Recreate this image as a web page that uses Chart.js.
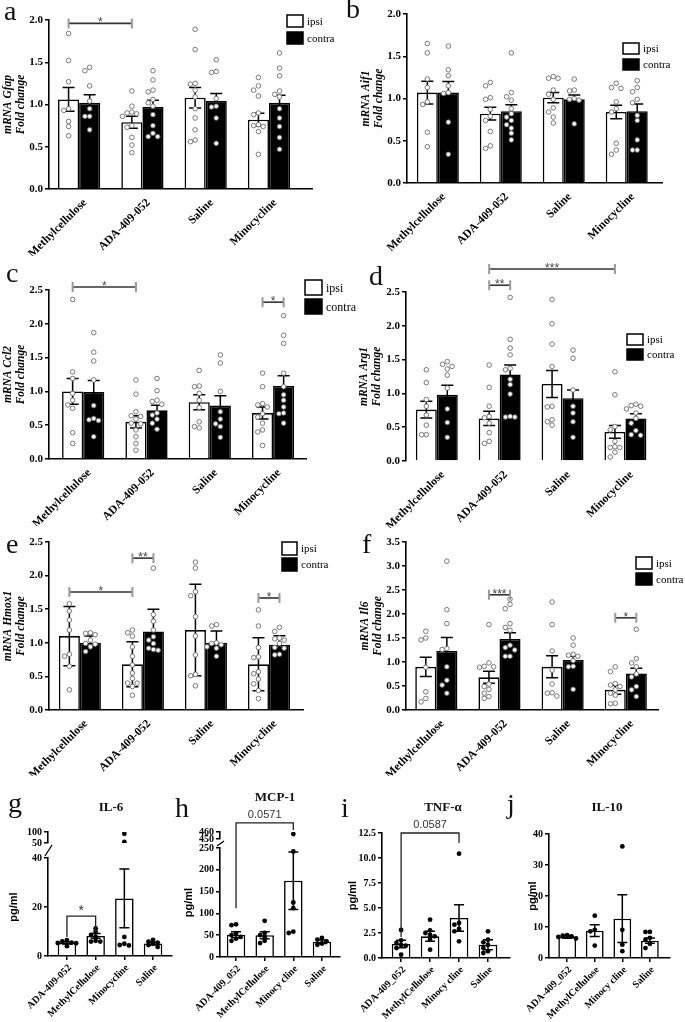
<!DOCTYPE html>
<html>
<head>
<meta charset="utf-8">
<script src="https://cdn.jsdelivr.net/npm/chart.js@4.4.4/dist/chart.umd.min.js"></script>
<style>
  body { margin: 0; background: #fff; width: 685px; height: 1022px; position: relative; overflow: hidden; font-family: "Liberation Serif", serif; }
  canvas { position: absolute; }
  .lt { position: absolute; font-size: 28px; line-height: 1; color: #111; }
  .tt { position: absolute; font-weight: bold; font-size: 13px; transform: translate(-50%, -50%); white-space: nowrap; color: #111; }
</style>
</head>
<body>
<canvas id="cA"></canvas><canvas id="cB"></canvas>
<canvas id="cC"></canvas><canvas id="cD"></canvas>
<canvas id="cE"></canvas><canvas id="cF"></canvas>
<canvas id="cG"></canvas><canvas id="cH"></canvas>
<canvas id="cI"></canvas><canvas id="cJ"></canvas>

<div class="lt" style="left:4px;top:-3px">a</div>
<div class="lt" style="left:346px;top:-5px">b</div>
<div class="lt" style="left:6px;top:259px">c</div>
<div class="lt" style="left:369px;top:262px">d</div>
<div class="lt" style="left:6px;top:530px">e</div>
<div class="lt" style="left:362px;top:530px">f</div>
<div class="lt" style="left:8px;top:789px">g</div>
<div class="lt" style="left:175px;top:794px">h</div>
<div class="lt" style="left:341px;top:794px">i</div>
<div class="lt" style="left:507px;top:790px">j</div>

<div class="tt" style="left:111px;top:807px">IL-6</div>
<div class="tt" style="left:275px;top:797px">MCP-1</div>
<div class="tt" style="left:443px;top:807px">TNF-α</div>
<div class="tt" style="left:607px;top:807px">IL-10</div>

<script>
const SERIF = '"Liberation Serif", "Times New Roman", serif';
const SANS = '"Liberation Sans", Arial, sans-serif';

const GROUPS = ['Methylcellulose', 'ADA-409-052', 'Saline', 'Minocycline'];

// a - Gfap (mean ± SEM)
const gfapIpsi = [1.06, 0.79, 1.08, 0.82];
const gfapIpsiErr = [0.14, 0.07, 0.12, 0.075];
const gfapContra = [1.02, 0.97, 1.04, 1.02];
const gfapContraErr = [0.095, 0.08, 0.09, 0.09];
const gfapIpsiDots = [
  [1.84, 1.52, 1.27, 0.95, 0.93, 0.80, 0.74, 0.63],
  [1.16, 0.98, 0.91, 0.90, 0.89, 0.86, 0.75, 0.73, 0.61, 0.52, 0.43],
  [1.89, 1.65, 1.25, 1.24, 1.17, 1.09, 0.95, 0.84, 0.70, 0.58, 0.56],
  [1.32, 1.22, 1.17, 1.10, 0.90, 0.88, 0.76, 0.75, 0.74, 0.68, 0.41],
];
const gfapContraDots = [
  [1.44, 1.40, 1.22, 1.04, 0.95, 0.86, 0.86, 0.70],
  [1.40, 1.29, 1.17, 1.15, 1.06, 1.02, 0.98, 0.88, 0.75, 0.66, 0.62, 0.62],
  [1.53, 1.39, 1.38, 1.07, 0.98, 0.97, 0.84, 0.54],
  [1.61, 1.43, 1.34, 1.16, 1.12, 1.09, 0.95, 0.84, 0.74, 0.61, 0.47],
];

// b - Aif1
const aif1Ipsi = [1.07, 0.82, 1.01, 0.84];
const aif1IpsiErr = [0.135, 0.075, 0.06, 0.08];
const aif1Contra = [1.07, 0.85, 0.99, 0.85];
const aif1ContraErr = [0.13, 0.075, 0.05, 0.085];
const aif1IpsiDots = [
  [1.65, 1.54, 1.23, 1.13, 0.96, 0.93, 0.60, 0.43],
  [1.19, 1.15, 1.01, 0.99, 0.87, 0.79, 0.74, 0.61, 0.44, 0.41],
  [1.26, 1.24, 1.24, 1.10, 1.05, 0.99, 0.89, 0.84, 0.78, 0.71],
  [1.18, 1.13, 1.12, 0.96, 0.88, 0.84, 0.47, 0.39, 0.34],
];
const aif1ContraDots = [
  [1.62, 1.34, 1.27, 1.15, 1.07, 1.06, 0.72, 0.34],
  [1.54, 1.07, 1.02, 0.98, 0.88, 0.82, 0.78, 0.74, 0.69, 0.65, 0.59, 0.51],
  [1.23, 1.10, 1.09, 1.00, 0.99, 0.98, 0.70],
  [1.21, 1.13, 1.08, 0.99, 0.95, 0.80, 0.74, 0.51, 0.39, 0.39],
];

// c - Ccl2
const ccl2Ipsi = [1.00, 0.55, 0.84, 0.68];
const ccl2IpsiErr = [0.19, 0.09, 0.11, 0.09];
const ccl2Contra = [0.99, 0.72, 0.79, 1.08];
const ccl2ContraErr = [0.17, 0.075, 0.145, 0.15];
const ccl2IpsiDots = [
  [2.36, 1.29, 1.19, 0.97, 0.87, 0.80, 0.75, 0.39, 0.23],
  [1.17, 0.96, 0.70, 0.64, 0.63, 0.59, 0.53, 0.52, 0.43, 0.33, 0.23, 0.13],
  [1.31, 1.08, 1.07, 0.97, 0.87, 0.76, 0.55, 0.48, 0.46],
  [1.27, 1.07, 0.82, 0.80, 0.77, 0.67, 0.62, 0.53, 0.43, 0.40, 0.20],
];
const ccl2ContraDots = [
  [1.87, 1.58, 1.45, 1.17, 0.79, 0.60, 0.58, 0.57, 0.33],
  [1.19, 1.01, 0.87, 0.85, 0.81, 0.68, 0.65, 0.59, 0.53, 0.44],
  [1.54, 1.42, 1.00, 0.70, 0.59, 0.52, 0.48, 0.32],
  [2.12, 1.83, 1.71, 1.27, 1.07, 0.95, 0.87, 0.77, 0.68, 0.67, 0.53],
];

// d - Arg1
const arg1Ipsi = [0.76, 0.63, 1.14, 0.43];
const arg1IpsiErr = [0.125, 0.105, 0.20, 0.095];
const arg1Contra = [0.98, 1.28, 0.93, 0.63];
const arg1ContraErr = [0.14, 0.14, 0.12, 0.07];
const arg1IpsiDots = [
  [1.35, 1.16, 0.91, 0.81, 0.68, 0.53, 0.39, 0.39],
  [1.42, 1.09, 0.81, 0.66, 0.64, 0.56, 0.42, 0.29, 0.26],
  [2.39, 2.03, 1.73, 1.40, 0.81, 0.80, 0.61, 0.58, 0.53],
  [1.32, 0.98, 0.51, 0.46, 0.29, 0.21, 0.20, 0.20, 0.13, 0.06],
];
const arg1ContraDots = [
  [1.47, 1.43, 1.40, 1.36, 1.27, 1.08, 0.77, 0.57, 0.35],
  [2.42, 1.80, 1.67, 1.57, 1.37, 1.35, 1.21, 1.13, 0.99, 0.66, 0.65, 0.65],
  [1.64, 1.52, 1.05, 0.81, 0.71, 0.58, 0.35],
  [0.84, 0.82, 0.81, 0.77, 0.71, 0.63, 0.56, 0.45, 0.39, 0.38],
];

// e - Hmox1 (mean ± SD)
const hmoxIpsi = [1.10, 0.68, 1.19, 0.68];
const hmoxIpsiErr = [0.44, 0.335, 0.68, 0.395];
const hmoxContra = [1.00, 1.17, 1.00, 0.97];
const hmoxContraErr = [0.10, 0.33, 0.175, 0.135];
const hmoxIpsiDots = [
  [1.58, 1.47, 1.34, 1.19, 0.83, 0.80, 0.65, 0.30],
  [1.19, 1.15, 1.10, 0.94, 0.80, 0.67, 0.55, 0.47, 0.40, 0.40, 0.35, 0.22],
  [2.20, 2.11, 1.76, 1.70, 1.39, 1.10, 0.82, 0.53, 0.51, 0.36],
  [1.49, 1.25, 0.93, 0.79, 0.78, 0.57, 0.54, 0.46, 0.39, 0.29, 0.17],
];
const hmoxContraDots = [
  [1.15, 1.14, 1.12, 1.04, 0.99, 0.98, 0.94, 0.87],
  [2.11, 1.42, 1.32, 1.19, 1.09, 1.04, 0.99, 0.92, 0.90, 0.89],
  [1.27, 1.25, 1.00, 0.99, 0.97, 0.94, 0.92, 0.80],
  [1.23, 1.17, 1.07, 1.06, 1.04, 0.99, 0.93, 0.92, 0.83, 0.82],
];

// f - Il6
const il6Ipsi = [0.90, 0.68, 0.90, 0.42];
const il6IpsiErr = [0.20, 0.125, 0.23, 0.09];
const il6Contra = [1.23, 1.48, 1.04, 0.76];
const il6ContraErr = [0.28, 0.13, 0.08, 0.11];
const il6IpsiDots = [
  [1.64, 1.50, 1.46, 0.89, 0.38, 0.24, 0.17],
  [1.78, 0.98, 0.91, 0.90, 0.89, 0.54, 0.49, 0.43, 0.35, 0.28, 0.24],
  [2.25, 1.78, 1.23, 0.83, 0.54, 0.36, 0.35, 0.29],
  [0.90, 0.80, 0.55, 0.52, 0.49, 0.42, 0.35, 0.31, 0.14, 0.13],
];
const il6ContraDots = [
  [3.10, 2.09, 1.80, 1.28, 1.26, 0.90, 0.62, 0.52, 0.35],
  [2.31, 2.20, 2.11, 1.80, 1.72, 1.66, 1.35, 1.30, 1.25, 1.12, 1.12],
  [1.50, 1.35, 1.16, 1.14, 1.12, 1.03, 0.91, 0.90, 0.43],
  [1.68, 1.07, 0.98, 0.90, 0.75, 0.69, 0.49, 0.42, 0.28],
];

// g-j - ELISA (pg/ml, mean ± SEM)
const elisaLabelsG = ['ADA-409-052', 'MethylCellulose', 'Minocycline', 'Saline'];
const elisaLabels = ['ADA-409_052', 'MethylCellulose', 'Minocy cline', 'Saline'];

const il6Serum = [5.3, 8.2, 23.5, 5.1];
const il6SerumErr = [0.4, 1.0, 12, 0.5];
const il6SerumDots = [
  [6.5, 6.0, 5.5, 5.3, 5.2, 4.0],
  [11.3, 9.9, 8.6, 7.9, 6.2, 5.9, 5.9],
  [7.8, 5.0, 4.5, 4.3],
  [6.6, 5.9, 5.5, 5.0, 4.5, 3.7],
];
const il6SerumHigh = [[], [], [92, 55], []];

const mcp1Serum = [51, 50, 175, 35];
const mcp1SerumErr = [7, 8, 66, 4];
const mcp1SerumDots = [
  [75, 73, 54, 50, 46, 42, 37],
  [83, 55, 50, 46, 37, 32],
  [242, 125, 112, 58, 55],
  [44, 40, 36, 31, 28],
];
const mcp1SerumHigh = [[], [], [457], []];

const tnfSerum = [1.4, 2.17, 4.0, 1.33];
const tnfSerumErr = [0.38, 0.5, 1.33, 0.5];
const tnfSerumDots = [
  [2.8, 1.77, 1.5, 1.3, 1.23, 1.0, 0.33],
  [3.83, 2.77, 2.5, 2.3, 2.17, 1.83, 0.83],
  [10.43, 3.5, 3.33, 2.9, 2.67, 1.67],
  [2.67, 1.83, 1.57, 1.3, 1.0, 0.67, 0.5],
];

const il10Serum = [6.8, 8.8, 12.7, 5.6];
const il10SerumErr = [0.4, 1.9, 7.7, 0.85];
const il10SerumDots = [
  [7.4, 7.2, 7.0, 6.8, 6.3],
  [13.65, 9.1, 8.6, 4.0],
  [36, 9.1, 4.3, 2.2],
  [8.4, 8.4, 6.5, 5.9, 4.6, 3.2],
];

// ---------------------------------------------------------------
const BAR_SPAN = 0.667;          // two bars fill this much of a group
const OFF = BAR_SPAN / 4;        // centre of each bar from the group centre
const ip = i => i - OFF;
const co = i => i + OFF;

// spread overlapping dots sideways, like a beeswarm
function swarm(groups, shift, step, yTol) {
  const out = [];
  groups.forEach((vals, i) => {
    const placed = [];
    vals.forEach(v => {
      let off = 0;
      for (const k of [0, -1, 1, -2, 2, -3, 3]) {
        off = k * step;
        if (!placed.some(p => Math.abs(p.y - v) < yTol && Math.abs(p.x - off) < step * 0.9)) break;
      }
      placed.push({ x: off, y: v });
      out.push({ x: i + shift + off, y: v });
    });
  });
  return out;
}

const errorBars = {
  id: 'errorBars',
  afterDatasetDraw(chart, args) {
    const ds = chart.data.datasets[args.index];
    if (!ds.errs) return;
    const ctx = chart.ctx;
    const ys = chart.scales[args.meta.yAxisID];
    ctx.save();
    ctx.strokeStyle = '#000';
    ctx.lineWidth = 1.5;
    args.meta.data.forEach((bar, i) => {
      const m = ds.data[i].y, e = ds.errs[i];
      const top = ys.getPixelForValue(m + e), bot = ys.getPixelForValue(m - e);
      const c = ds.capHalf;
      ctx.beginPath();
      ctx.moveTo(bar.x, top); ctx.lineTo(bar.x, bot);
      ctx.moveTo(bar.x - c, top); ctx.lineTo(bar.x + c, top);
      ctx.moveTo(bar.x - c, bot); ctx.lineTo(bar.x + c, bot);
      ctx.stroke();
    });
    ctx.restore();
  }
};

const sigBrackets = {
  id: 'sigBrackets',
  afterDraw(chart, _a, opts) {
    const items = opts.items || [];
    const ctx = chart.ctx;
    const xs = chart.scales.x;
    ctx.save();
    items.forEach(it => {
      const x1 = xs.getPixelForValue(it.x1), x2 = xs.getPixelForValue(it.x2);
      const y = chart.scales[it.axis || 'y'].getPixelForValue(it.y);
      if (opts.prism) {
        const l1 = chart.scales[it.leg1Axis || 'y'].getPixelForValue(it.leg1);
        const l2 = chart.scales[it.leg2Axis || 'y'].getPixelForValue(it.leg2);
        ctx.strokeStyle = '#222';
        ctx.lineWidth = 1.3;
        ctx.beginPath();
        ctx.moveTo(x1, l1); ctx.lineTo(x1, y); ctx.lineTo(x2, y); ctx.lineTo(x2, l2);
        ctx.stroke();
        ctx.fillStyle = '#333';
        ctx.font = (it.text === '*' ? 14 : 11) + 'px ' + SANS;
        ctx.textAlign = 'center';
        ctx.textBaseline = 'alphabetic';
        ctx.fillText(it.text, (x1 + x2) / 2, y - (it.text === '*' ? 1 : 5));
      } else {
        ctx.strokeStyle = '#333';
        ctx.lineWidth = 1.6;
        ctx.beginPath();
        ctx.moveTo(x1, y); ctx.lineTo(x2, y);
        ctx.stroke();
        ctx.strokeStyle = '#9a9a9a';
        ctx.lineWidth = 2;
        ctx.beginPath();
        ctx.moveTo(x1, y - 5); ctx.lineTo(x1, y + 5);
        ctx.moveTo(x2, y - 5); ctx.lineTo(x2, y + 5);
        ctx.stroke();
        ctx.fillStyle = '#444';
        ctx.font = '12px ' + SANS;
        ctx.textAlign = 'center';
        ctx.textBaseline = 'alphabetic';
        ctx.fillText(it.text, (x1 + x2) / 2, y + 3);
      }
    });
    ctx.restore();
  }
};

const boxLegend = {
  id: 'boxLegend',
  afterDraw(chart, _a, o) {
    if (o.x === undefined) return;
    const ctx = chart.ctx;
    const rows = chart.data.datasets.filter(d => d.type === 'bar');
    ctx.save();
    rows.forEach((d, k) => {
      const y = o.y + k * o.gap;
      ctx.fillStyle = d.backgroundColor;
      ctx.fillRect(o.x, y, o.w, o.h);
      ctx.strokeStyle = '#000';
      ctx.lineWidth = 1.5;
      ctx.strokeRect(o.x, y, o.w, o.h);
      ctx.fillStyle = '#000';
      ctx.font = o.size + 'px ' + SERIF;
      ctx.textAlign = 'left';
      ctx.textBaseline = 'middle';
      ctx.fillText(d.label, o.x + o.w + 4, y + o.h / 2 + 1);
    });
    ctx.restore();
  }
};

const axisBreak = {
  id: 'axisBreak',
  afterDraw(chart) {
    const gap = chart.scales.yGap;
    if (!gap) return;
    const ctx = chart.ctx;
    const x = chart.chartArea.left;
    ctx.save();
    ctx.strokeStyle = '#000';
    ctx.lineWidth = 1.3;
    ctx.beginPath();
    ctx.moveTo(x - 3, gap.bottom - 2); ctx.lineTo(x + 4, gap.top + 2);
    ctx.stroke();
    ctx.restore();
  }
};

Chart.register(errorBars, sigBrackets, boxLegend, axisBreak);

function place(id, box) {
  const cv = document.getElementById(id);
  cv.width = box.r - box.l;
  cv.height = box.b - box.t;
  cv.style.left = box.l + 'px';
  cv.style.top = box.t + 'px';
  return cv;
}

const dotStyle = { pointRadius: 2.3, pointBackgroundColor: '#fff', pointBorderColor: '#6b6b6b', pointBorderWidth: 0.9 };

function genePanel(id, p) {
  const a = p.area, c = p.canvas;
  const cv = place(id, c);
  const yTol = p.yMax * 0.03;
  new Chart(cv, {
    data: {
      datasets: [
        { type: 'scatter', data: swarm(p.ipsiDots, -OFF, 0.075, yTol), order: 1, ...dotStyle },
        { type: 'scatter', data: swarm(p.contraDots, OFF, 0.075, yTol), order: 1, ...dotStyle },
        { type: 'bar', label: 'ipsi', data: p.ipsi.map((y, i) => ({ x: i, y })), errs: p.ipsiErr, capHalf: 6,
          backgroundColor: '#fff', borderColor: '#000', borderWidth: 1.6, order: 2,
          categoryPercentage: BAR_SPAN, barPercentage: 1 },
        { type: 'bar', label: 'contra', data: p.contra.map((y, i) => ({ x: i, y })), errs: p.contraErr, capHalf: 6,
          backgroundColor: '#000', borderColor: '#000', borderWidth: 1.6, order: 2,
          categoryPercentage: BAR_SPAN, barPercentage: 1 },
      ],
    },
    options: {
      responsive: false,
      animation: false,
      events: [],
      layout: { padding: { top: a.t - c.t, right: c.r - a.r, left: 0, bottom: 0 } },
      scales: {
        x: {
          type: 'linear', min: p.x[0], max: p.x[1], offset: false,
          afterBuildTicks: s => { s.ticks = GROUPS.map((_, i) => ({ value: i })); },
          afterFit: s => { s.height = c.b - a.b; },
          ticks: { callback: v => GROUPS[v], minRotation: 45, maxRotation: 45, autoSkip: false,
                   padding: 7, labelOffset: 6, color: '#000', font: { family: SERIF, size: 11.6, weight: 'bold' } },
          grid: { display: false, drawTicks: false, offset: false },
          border: { display: p.xLine !== false, color: '#000', width: 1.6 },
        },
        y: {
          min: 0, max: p.yMax,
          afterFit: s => { s.width = a.l - c.l; },
          ticks: { stepSize: 0.5, callback: v => v.toFixed(1), padding: 2, color: '#000',
                   font: { family: SERIF, size: 11, weight: 'bold' } },
          grid: { display: true, drawOnChartArea: false, drawTicks: true, tickLength: 4, color: '#000', lineWidth: 1.5 },
          border: { color: '#000', width: 1.6 },
          title: { display: true, text: ['mRNA ' + p.gene, 'Fold change'], color: '#000',
                   font: { family: SERIF, size: 11.5, weight: 'bold', style: 'italic', lineHeight: 1.1 }, padding: { top: 2, bottom: 4 } },
        },
      },
      plugins: {
        legend: { display: false },
        tooltip: { enabled: false },
        boxLegend: { x: p.legend.x - c.l, y: p.legend.y - c.t, w: p.legend.w, h: p.legend.h, gap: p.legend.gap, size: p.legend.size },
        sigBrackets: { items: p.sig, prism: false },
      },
    },
  });
}

function elisaPanel(id, p) {
  const a = p.area, c = p.canvas;
  const cv = place(id, c);
  const yTol = p.yMax * 0.035;
  const tickFont = { family: SERIF, size: 10, weight: 'bold' };
  const yGrid = { display: true, drawOnChartArea: false, drawTicks: true, tickLength: 4, color: '#000', lineWidth: 1.5 };
  const fitY = s => { s.width = a.l - c.l; };
  const dotsBlack = { pointRadius: 2.4, pointBackgroundColor: '#000', pointBorderWidth: 0, order: 1 };

  const datasets = [
    { type: 'scatter', data: swarm(p.dots, 0, 0.16, yTol), ...dotsBlack },
    { type: 'bar', label: 'mean', data: p.mean.map((y, i) => ({ x: i, y })), errs: p.err, capHalf: 5,
      backgroundColor: '#fff', borderColor: '#000', borderWidth: 1.6, order: 2,
      categoryPercentage: 0.645, barPercentage: 1 },
  ];
  const scales = {
    x: {
      type: 'linear', min: p.x[0], max: p.x[1], offset: false,
      afterBuildTicks: s => { s.ticks = p.labels.map((_, i) => ({ value: i })); },
      afterFit: s => { s.height = c.b - a.b; },
      ticks: { callback: v => p.labels[v], minRotation: 45, maxRotation: 45, autoSkip: false,
               padding: 2, labelOffset: 3, color: '#000', font: { family: SERIF, size: 10, weight: 'bold' } },
      grid: { display: true, drawOnChartArea: false, drawTicks: true, tickLength: 4, color: '#000', lineWidth: 1.5, offset: false },
      border: { color: '#000', width: 1.6 },
    },
    y: {
      min: 0, max: p.yMax, weight: 1,
      afterFit: fitY,
      ticks: { stepSize: p.step, callback: v => p.fmt ? v.toFixed(1) : String(v), padding: 2, autoSkip: false,
               color: '#000', font: tickFont },
      grid: yGrid,
      border: { color: '#000', width: 1.6 },
      title: { display: true, text: 'pg/ml', color: '#000', font: { family: SANS, size: 11, weight: 'bold' }, padding: { top: 2, bottom: 4 } },
    },
  };
  if (p.top) {
    const [wTop, wGap, wLow] = p.top.weights;
    scales.y.stack = 'v';
    scales.y.stackWeight = wLow;
    scales.yGap = {
      stack: 'v', stackWeight: wGap, weight: 2, min: 0, max: 1, afterFit: fitY,
      ticks: { display: false }, grid: { display: false }, border: { display: false },
    };
    scales.yTop = {
      stack: 'v', stackWeight: wTop, weight: 3, min: p.top.min, max: p.top.max, afterFit: fitY,
      afterBuildTicks: s => { s.ticks = p.top.ticks.map(v => ({ value: v })); },
      ticks: { autoSkip: false, padding: 2, color: '#000', font: tickFont },
      grid: yGrid,
      border: { color: '#000', width: 1.6 },
    };
    datasets.unshift({ type: 'scatter', yAxisID: 'yTop', data: swarm(p.top.dots, 0, 0.16, (p.top.max - p.top.min) * 0.2), ...dotsBlack });
  }
  new Chart(cv, {
    data: { datasets },
    options: {
      responsive: false,
      animation: false,
      events: [],
      layout: { padding: { top: a.t - c.t, right: c.r - a.r, left: 0, bottom: 0 } },
      scales,
      plugins: {
        legend: { display: false },
        tooltip: { enabled: false },
        sigBrackets: { items: p.sig || [], prism: true },
      },
    },
  });
}

// ---------------------------------------------------------------
genePanel('cA', {
  area: { l: 49, r: 312, t: 20, b: 189 }, canvas: { l: 0, t: 2, r: 340, b: 256 },
  x: [-0.476, 3.68], yMax: 2, gene: 'Gfap',
  ipsi: gfapIpsi, ipsiErr: gfapIpsiErr, contra: gfapContra, contraErr: gfapContraErr,
  ipsiDots: gfapIpsiDots, contraDots: gfapContraDots,
  legend: { x: 287, y: 15, w: 16, h: 12, gap: 17, size: 11 },
  sig: [{ x1: ip(0), x2: ip(1), y: 1.96, text: '*' }],
});

genePanel('cB', {
  area: { l: 407, r: 662, t: 14, b: 183 }, canvas: { l: 358, t: 2, r: 685, b: 252 },
  x: [-0.49, 3.56], yMax: 2, gene: 'Aif1',
  ipsi: aif1Ipsi, ipsiErr: aif1IpsiErr, contra: aif1Contra, contraErr: aif1ContraErr,
  ipsiDots: aif1IpsiDots, contraDots: aif1ContraDots,
  legend: { x: 623, y: 43, w: 16, h: 11, gap: 16, size: 11 },
  sig: [],
});

genePanel('cC', {
  area: { l: 49, r: 306, t: 290, b: 459 }, canvas: { l: 0, t: 270, r: 365, b: 526 },
  x: [-0.54, 3.52], yMax: 2.5, gene: 'Ccl2',
  ipsi: ccl2Ipsi, ipsiErr: ccl2IpsiErr, contra: ccl2Contra, contraErr: ccl2ContraErr,
  ipsiDots: ccl2IpsiDots, contraDots: ccl2ContraDots,
  legend: { x: 305, y: 280, w: 17, h: 15, gap: 19, size: 12 },
  sig: [{ x1: ip(0), x2: ip(1), y: 2.544, text: '*' }, { x1: ip(3), x2: co(3), y: 2.32, text: '*' }],
});

genePanel('cD', {
  area: { l: 406, r: 660, t: 292, b: 461 }, canvas: { l: 356, t: 258, r: 685, b: 528 },
  x: [-0.49, 3.55], yMax: 2.5, gene: 'Arg1', xLine: false,
  ipsi: arg1Ipsi, ipsiErr: arg1IpsiErr, contra: arg1Contra, contraErr: arg1ContraErr,
  ipsiDots: arg1IpsiDots, contraDots: arg1ContraDots,
  legend: { x: 627, y: 334, w: 16, h: 11, gap: 15, size: 11 },
  sig: [{ x1: ip(1), x2: ip(3), y: 2.84, text: '***' }, { x1: ip(1), x2: co(1), y: 2.60, text: '**' }],
});

genePanel('cE', {
  area: { l: 49, r: 303, t: 542, b: 710 }, canvas: { l: 0, t: 530, r: 340, b: 776 },
  x: [-0.49, 3.54], yMax: 2.5, gene: 'Hmox1',
  ipsi: hmoxIpsi, ipsiErr: hmoxIpsiErr, contra: hmoxContra, contraErr: hmoxContraErr,
  ipsiDots: hmoxIpsiDots, contraDots: hmoxContraDots,
  legend: { x: 282, y: 542, w: 15, h: 13, gap: 16, size: 11 },
  sig: [
    { x1: ip(0), x2: ip(1), y: 1.756, text: '*' },
    { x1: ip(1), x2: co(1), y: 2.26, text: '**' },
    { x1: ip(3), x2: co(3), y: 1.667, text: '*' },
  ],
});

genePanel('cF', {
  area: { l: 406, r: 658, t: 542, b: 710 }, canvas: { l: 357, t: 530, r: 685, b: 776 },
  x: [-0.48, 3.51], yMax: 3.5, gene: 'Il6',
  ipsi: il6Ipsi, ipsiErr: il6IpsiErr, contra: il6Contra, contraErr: il6ContraErr,
  ipsiDots: il6IpsiDots, contraDots: il6ContraDots,
  legend: { x: 636, y: 557, w: 16, h: 12, gap: 16, size: 11 },
  sig: [{ x1: ip(1), x2: co(1), y: 2.40, text: '***' }, { x1: ip(3), x2: co(3), y: 1.92, text: '*' }],
});

elisaPanel('cG', {
  area: { l: 48, r: 172, t: 832, b: 956 }, canvas: { l: 5, t: 822, r: 178, b: 1020 },
  x: [-0.66, 3.66], yMax: 40, step: 20, labels: elisaLabelsG,
  mean: il6Serum, err: il6SerumErr, dots: il6SerumDots,
  top: { min: 50, max: 100, ticks: [50, 100], weights: [11, 15, 98], dots: il6SerumHigh },
  sig: [{ x1: 0, x2: 1, y: 16.3, leg1: 7.8, leg2: 9.8, text: '*' }],
});

elisaPanel('cH', {
  area: { l: 220, r: 340, t: 832, b: 957 }, canvas: { l: 180, t: 805, r: 345, b: 1020 },
  x: [-0.56, 3.63], yMax: 250, step: 50, labels: elisaLabels,
  mean: mcp1Serum, err: mcp1SerumErr, dots: mcp1SerumDots,
  top: { min: 450, max: 460, ticks: [450, 460], weights: [7, 9, 109], dots: mcp1SerumHigh },
  sig: [{ x1: 0, x2: 2, y: 473, axis: 'yTop', leg1: 112, leg2: 463, leg2Axis: 'yTop', text: '0.0571' }],
});

elisaPanel('cI', {
  area: { l: 382, r: 510, t: 833, b: 958 }, canvas: { l: 344, t: 812, r: 515, b: 1020 },
  x: [-0.66, 3.76], yMax: 12.5, step: 2.5, fmt: true, labels: elisaLabels,
  mean: tnfSerum, err: tnfSerumErr, dots: tnfSerumDots,
  sig: [{ x1: 0, x2: 2, y: 12.5, leg1: 2.1, leg2: 11.5, text: '0.0587' }],
});

elisaPanel('cJ', {
  area: { l: 544, r: 670, t: 834, b: 958 }, canvas: { l: 519, t: 822, r: 685, b: 1020 },
  x: [-0.66, 3.73], yMax: 40, step: 10, labels: elisaLabels,
  mean: il10Serum, err: il10SerumErr, dots: il10SerumDots,
});
</script>
</body>
</html>
